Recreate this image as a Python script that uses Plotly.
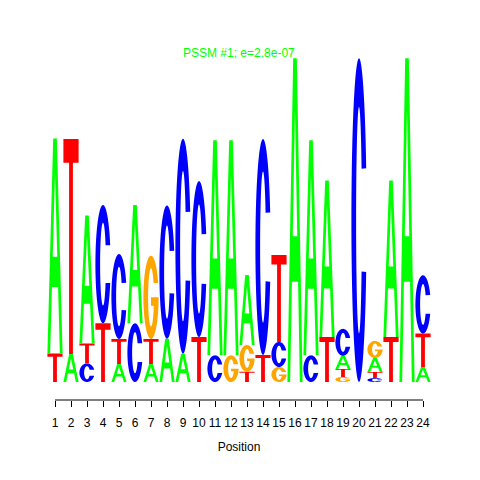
import numpy as np
import plotly.graph_objects as go

# ---- data (information content in bits per letter) ----
positions = list(range(1, 25))
A_bits = [1.315, 0.171, 0.783, 0.0, 0.110, 0.724, 0.110, 0.265, 0.173, 0.0, 1.315, 1.315,
          0.428, 0.0, 0.0, 1.980, 1.315, 0.958, 0.080, 0.0, 0.086, 0.958, 1.980, 0.092]
C_bits = [0.0, 0.0, 0.114, 0.724, 0.520, 0.359, 0.0, 0.815, 1.315, 0.954, 0.163, 0.0,
          0.0, 1.321, 0.153, 0.0, 0.163, 0.0, 0.165, 1.980, 0.024, 0.0, 0.0, 0.357]
G_bits = [0.0, 0.0, 0.0, 0.0, 0.0, 0.0, 0.510, 0.0, 0.0, 0.0, 0.0, 0.163,
          0.163, 0.0, 0.092, 0.0, 0.0, 0.0, 0.031, 0.0, 0.104, 0.0, 0.0, 0.0]
T_bits = [0.174, 1.315, 0.122, 0.359, 0.153, 0.0, 0.153, 0.0, 0.0, 0.275, 0.0, 0.0,
          0.063, 0.165, 0.532, 0.0, 0.0, 0.275, 0.049, 0.0, 0.037, 0.275, 0.0, 0.204]
tick_labels = [str(p) for p in positions]
title_text = "PSSM #1; e=2.8e-07"
x_title = "Position"

colors = {"A": "#00FF00", "C": "#0000FF", "G": "#FFA500", "T": "#FF0000"}
LETTER_W = 0.95


def ellipse(cx, cy, rx, ry, a0, a1, n=60):
    t = np.radians(np.linspace(a0, a1, n))
    return list(zip(cx + rx * np.cos(t), cy + ry * np.sin(t)))


def glyph(letter):
    if letter == "T":
        b = 0.89
        return [[(0, 1), (1, 1), (1, b), (0.625, b), (0.625, 0), (0.375, 0), (0.375, b), (0, b)]]
    if letter == "A":
        outer = [(0, 0), (0.38, 1), (0.62, 1), (1, 0), (0.82, 0), (0.702, 0.31),
                 (0.298, 0.31), (0.18, 0)]
        hole = [(0.351, 0.45), (0.649, 0.45), (0.5, 0.84)]
        return [outer, hole]
    if letter == "C":
        outer = ellipse(0.5, 0.5, 0.5, 0.5, 18.7, 341.3)
        inner = ellipse(0.5, 0.5, 0.19, 0.35, 333, 27)
        return [outer + inner]
    if letter == "G":
        outer = ellipse(0.5, 0.5, 0.5, 0.5, 20, 360)
        bar = [(1.0, 0.5), (0.5, 0.5), (0.5, 0.4)]
        inner = ellipse(0.5, 0.5, 0.19, 0.35, -16.6, -330.8)
        return [outer + bar + inner]
    return []


def letter_path(letter, xc, y0, h):
    parts = []
    for poly in glyph(letter):
        pts = [(xc - LETTER_W / 2 + u * LETTER_W, y0 + v * h) for u, v in poly]
        s = "M " + " L ".join(f"{x:.4f},{y:.5f}" for x, y in pts) + " Z"
        parts.append(s)
    return " ".join(parts)


shapes = []
for i, pos in enumerate(positions):
    col = [("A", A_bits[i]), ("C", C_bits[i]), ("G", G_bits[i]), ("T", T_bits[i])]
    col = sorted([c for c in col if c[1] > 0], key=lambda c: c[1])
    base = 0.0
    for letter, h in col:
        shapes.append(dict(type="path", xref="x", yref="y",
                           path=letter_path(letter, pos, base, h),
                           fillcolor=colors[letter], fillrule="evenodd",
                           line=dict(width=0), layer="above"))
        base += h

# R-style axis line spanning only first to last tick
shapes.append(dict(type="line", xref="x", yref="paper", x0=positions[0], x1=positions[-1],
                   y0=0, y1=0, line=dict(color="black", width=1)))

fig = go.Figure()
fig.add_trace(go.Scatter(x=positions, y=[0] * len(positions), mode="markers",
                         marker=dict(opacity=0), hoverinfo="skip", showlegend=False))

fig.update_layout(
    width=480, height=480,
    margin=dict(l=39, r=57, t=32, b=88),
    paper_bgcolor="white", plot_bgcolor="white",
    font=dict(family="Liberation Sans, Arial, sans-serif", size=12, color="black"),
    shapes=shapes,
    showlegend=False,
    xaxis=dict(range=[0.5, 24.5], tickmode="array", tickvals=positions, ticktext=tick_labels,
               ticks="outside", ticklen=6, tickcolor="black", tickwidth=1,
               showgrid=False, zeroline=False, showline=False,
               ticklabelstandoff=6,
               tickfont=dict(size=12, color="black"),
               title=dict(text=x_title, font=dict(size=12, color="black"), standoff=13)),
    yaxis=dict(range=[-0.110, 2.0917], visible=False, showgrid=False, zeroline=False),
    annotations=[dict(text=title_text, xref="paper", yref="paper", x=0.5, y=0.964,
                      xanchor="center", yanchor="middle", showarrow=False,
                      font=dict(size=12, color="#00FF00"))],
)

fig.write_html("out.html")
